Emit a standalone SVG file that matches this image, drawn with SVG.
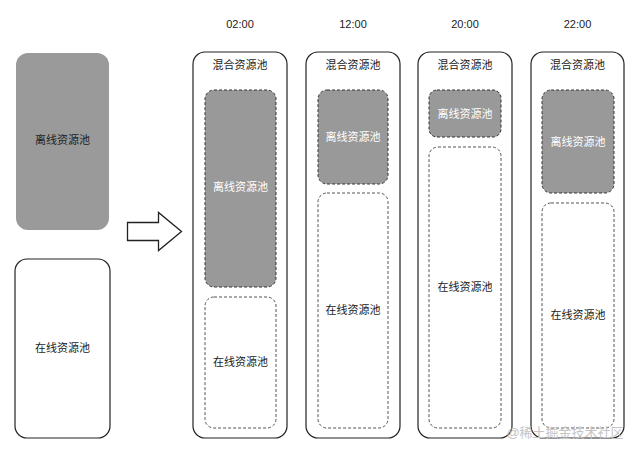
<svg xmlns="http://www.w3.org/2000/svg" width="640" height="453" viewBox="0 0 640 453">
<style>
text{font-family:"Liberation Sans","Noto Sans CJK SC",sans-serif;font-size:11px;text-anchor:middle;dominant-baseline:central;fill:#222}
.wt{fill:#fff}
.box{fill:#fff;stroke:#222;stroke-width:1.2}
.off{fill:#999;stroke:#333;stroke-width:1;stroke-dasharray:3 2}
.on{fill:#fff;stroke:#555;stroke-width:1;stroke-dasharray:3 2}
.time{font-size:11px}
</style>
<rect width="640" height="453" fill="#fff"/>
<g id="left-offline"><rect x="16" y="53" width="93" height="177" rx="12" fill="#9a9a9a"/><text x="62.5" y="140">离线资源池</text></g>
<g id="left-online"><rect class="box" x="15" y="259" width="95" height="179" rx="12"/><text x="62.5" y="348">在线资源池</text></g>
<g id="connectors"><path d="M127.5 222.5 H158.5 V212.5 L181.5 231.5 L158.5 250.5 V240.5 H127.5 Z" fill="#fff" stroke="#222" stroke-width="1.3"/></g>
<g id="t0200"><text class="time" x="240" y="24">02:00</text>
<rect class="box" x="193" y="52" width="94" height="386" rx="12"/><text x="240" y="65">混合资源池</text>
<rect class="off" x="205" y="90" width="71" height="197" rx="9"/><text class="wt" x="240.5" y="187">离线资源池</text>
<rect class="on" x="205" y="297" width="71" height="131" rx="9"/><text x="240.5" y="362">在线资源池</text></g>
<g id="t1200"><text class="time" x="353" y="24">12:00</text>
<rect class="box" x="306" y="52" width="94" height="386" rx="12"/><text x="353" y="65">混合资源池</text>
<rect class="off" x="318" y="90" width="70" height="94" rx="9"/><text class="wt" x="353" y="137">离线资源池</text>
<rect class="on" x="318" y="193" width="70" height="235" rx="9"/><text x="353" y="310">在线资源池</text></g>
<g id="t2000"><text class="time" x="465" y="24">20:00</text>
<rect class="box" x="418" y="52" width="94" height="386" rx="12"/><text x="465" y="65">混合资源池</text>
<rect class="off" x="429" y="90" width="72" height="47" rx="8"/><text class="wt" x="465" y="114">离线资源池</text>
<rect class="on" x="429" y="147" width="72" height="281" rx="9"/><text x="465" y="287">在线资源池</text></g>
<g id="t2200"><text class="time" x="577.5" y="24">22:00</text>
<rect class="box" x="531" y="52" width="93" height="386" rx="12"/><text x="577.5" y="65">混合资源池</text>
<rect class="off" x="542" y="90" width="72" height="103" rx="9"/><text class="wt" x="578" y="142">离线资源池</text>
<rect class="on" x="542" y="203" width="72" height="225" rx="9"/><text x="578" y="315">在线资源池</text></g>
<text x="565" y="432" style="font-size:13px;fill:#c4c4c4">@稀土掘金技术社区</text>
</svg>
